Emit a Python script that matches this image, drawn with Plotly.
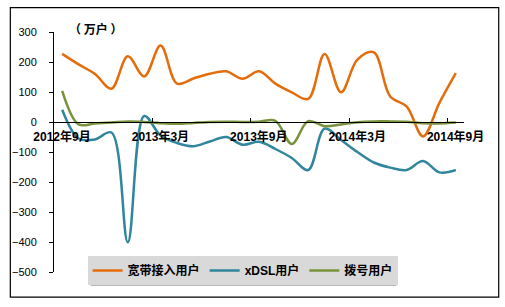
import plotly.graph_objects as go

months = ["2012年9月", "2012年10月", "2012年11月", "2012年12月", "2013年1月", "2013年2月",
          "2013年3月", "2013年4月", "2013年5月", "2013年6月", "2013年7月", "2013年8月",
          "2013年9月", "2013年10月", "2013年11月", "2013年12月", "2014年1月", "2014年2月",
          "2014年3月", "2014年4月", "2014年5月", "2014年6月", "2014年7月", "2014年8月",
          "2014年9月"]
broadband = [227, 192, 160, 111, 219, 152, 255, 128, 145, 161, 169, 144, 169, 128, 99, 77,
             227, 99, 208, 232, 85, 52, -48, 64, 163]
xdsl = [41, -55, -58, -35, -401, 20, -45, -70, -81, -65, -50, -76, -66, -90, -120, -160,
        -22, -60, -100, -135, -152, -160, -130, -168, -160]
dialup = [104, -8, -5, -2, 2, 0, -4, -6, -3, 0, 1, 0, 1, 4, -73, 3, -14, -8, -1, 2, 2, 1,
          -4, -5, -2]
series_names = ["宽带接入用户", "xDSL用户", "拨号用户"]
colors = ["#E46C0A", "#31859C", "#77933C"]
label_every = 6
y_ticks = [-500, -400, -300, -200, -100, 0, 100, 200, 300]

xpos = [i + 0.5 for i in range(len(months))]
fig = go.Figure()
for name, vals, col in zip(series_names, [broadband, xdsl, dialup], colors):
    fig.add_trace(go.Scatter(x=xpos, y=vals, name=name, mode="lines",
                             line=dict(color=col, width=2.5, shape="spline", smoothing=1.0)))

tick_idx = list(range(0, len(months), label_every))
cjk = "Liberation Sans, Arial, Noto Sans CJK SC"
fig.update_layout(
    width=505, height=307,
    margin=dict(l=51, r=41, t=32, b=35),
    paper_bgcolor="white", plot_bgcolor="white",
    font=dict(family=cjk, color="black"),
    xaxis=dict(range=[0, len(months)], tickmode="array", tickvals=tick_idx,
               ticktext=[months[i] for i in tick_idx], anchor="free", position=0.625,
               showline=True, linecolor="black", linewidth=1, ticks="inside", ticklen=4,
               tickcolor="black", showgrid=False, zeroline=False, ticklabelshift=8,
               ticklabelstandoff=4,
               tickfont=dict(size=12, weight="bold", family=cjk)),
    yaxis=dict(range=[-500, 300], tickvals=y_ticks, showline=True, linecolor="black",
               linewidth=1, ticks="outside", ticklen=4, tickcolor="black", showgrid=False,
               zeroline=False, ticklabelstandoff=10, tickfont=dict(size=11)),
    legend=dict(orientation="h", x=0.082, y=0.067, xanchor="left", yanchor="top",
                bgcolor="#D9D9D9", font=dict(size=12, weight="bold", family=cjk),
                itemwidth=30, tracegroupgap=0),
    annotations=[dict(text="（ 万户 ）", xref="paper", yref="paper", x=0.1, y=1.014,
                      xanchor="center", yanchor="middle", showarrow=False,
                      font=dict(size=12, weight="bold", family="Noto Sans CJK SC"))],
    shapes=[
        dict(type="rect", xref="paper", yref="paper", x0=-0.1065, x1=1.0847,
             y0=-0.1043, y1=1.1014, line=dict(color="black", width=1.2),
             fillcolor="rgba(0,0,0,0)", layer="below"),
        dict(type="rect", xref="paper", yref="paper", x0=0.0896, x1=0.835,
             y0=-0.058, y1=0.054, line=dict(width=0),
             fillcolor="rgba(0,0,0,0.28)", layer="below"),
    ],
)
fig.write_html("out.html")
